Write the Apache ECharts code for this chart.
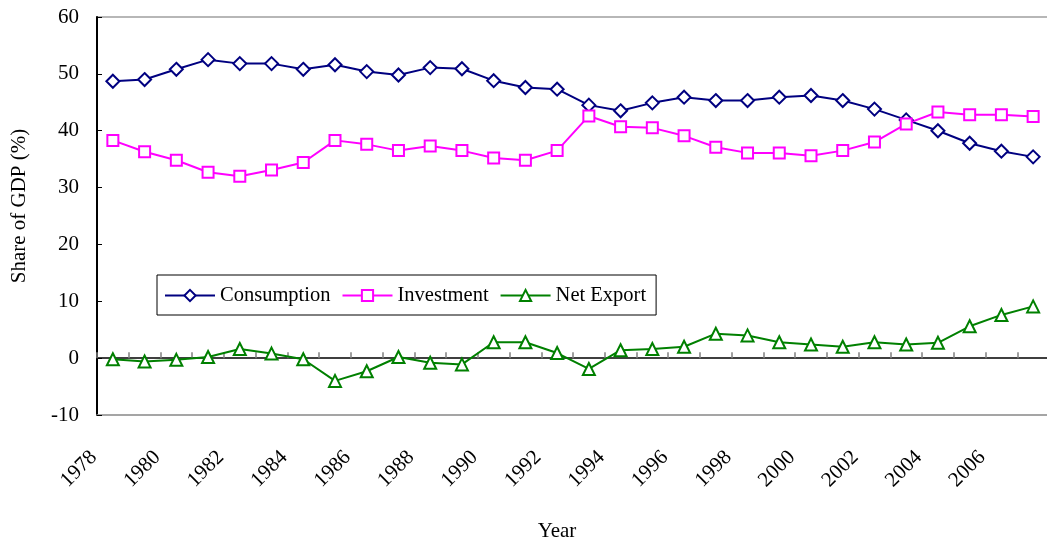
<!DOCTYPE html>
<html>
<head>
<meta charset="utf-8">
<script src="https://cdn.jsdelivr.net/npm/echarts@6/dist/echarts.min.js"></script>
<style>
  html, body { margin: 0; padding: 0; background: #fff; }
  #chart { width: 1047px; height: 539px; }
</style>
</head>
<body>
<div id="chart"></div>
<script>
const years = [
  "1978", "1979", "1980", "1981", "1982", "1983", "1984", "1985", "1986", "1987",
  "1988", "1989", "1990", "1991", "1992", "1993", "1994", "1995", "1996", "1997",
  "1998", "1999", "2000", "2001", "2002", "2003", "2004", "2005", "2006", "2007"
];
const consumption = [
  48.7, 49.0, 50.8, 52.5, 51.8, 51.8, 50.8, 51.6, 50.4, 49.8,
  51.1, 50.9, 48.8, 47.6, 47.3, 44.5, 43.5, 44.9, 45.9, 45.3,
  45.3, 45.9, 46.2, 45.3, 43.8, 41.9, 40.0, 37.8, 36.4, 35.4
];
const investment = [
  38.3, 36.3, 34.8, 32.7, 32.0, 33.1, 34.4, 38.3, 37.6, 36.5,
  37.3, 36.5, 35.2, 34.8, 36.5, 42.6, 40.7, 40.5, 39.1, 37.1,
  36.1, 36.1, 35.6, 36.5, 38.0, 41.2, 43.3, 42.8, 42.8, 42.5
];
const netExport = [
  -0.2, -0.6, -0.3, 0.2, 1.6, 0.8, -0.2, -4.0, -2.3, 0.2,
  -0.8, -1.1, 2.8, 2.8, 0.9, -1.9, 1.4, 1.6, 2.0, 4.3,
  4.0, 2.8, 2.4, 2.0, 2.8, 2.4, 2.7, 5.6, 7.6, 9.1
];

const FONT = "'Liberation Serif', 'DejaVu Serif', serif";
const FS = 21;

const chart = echarts.init(document.getElementById("chart"));

const lineSeries = (name, data, color, symbol, size) => ({
  name,
  type: "line",
  data,
  symbol,
  symbolSize: size,
  showAllSymbol: true,
  lineStyle: { color, width: 2 },
  itemStyle: { color, borderColor: color, borderWidth: 2 },
  emphasis: { disabled: true },
  animation: false
});

chart.setOption({
  animation: false,
  textStyle: { fontFamily: FONT, color: "#000" },
  grid: {
    left: 97, top: 17, width: 952, height: 398,
    containLabel: false, outerBoundsMode: "none",
    show: true, borderColor: "#a0a0a0", borderWidth: 1.5, backgroundColor: "#fff"
  },
  legend: {
    left: 157, top: 275,
    orient: "horizontal",
    itemWidth: 50, itemHeight: 14, itemGap: 11,
    padding: [10, 10, 9, 7],
    borderColor: "#000", borderWidth: 1,
    textStyle: { fontFamily: FONT, fontSize: 20.5, color: "#000" },
    data: ["Consumption", "Investment", "Net Export"]
  },
  xAxis: [
    {
      type: "category",
      data: years,
      position: "bottom",
      boundaryGap: true,
      axisLine: { onZero: false, lineStyle: { color: "#a0a0a0", width: 1.5 } },
      axisTick: { show: false },
      axisLabel: {
        interval: 1, rotate: 45, margin: 20,
        padding: [0, 27, 0, 0],
        fontFamily: FONT, fontSize: FS, color: "#000"
      },
      name: "Year",
      nameLocation: "middle",
      nameGap: 106,
      nameTextStyle: { fontFamily: FONT, fontSize: FS, color: "#000", padding: [0, 32, 0, 0] }
    },
    {
      type: "category",
      data: years,
      position: "top",
      boundaryGap: true,
      axisLine: { onZero: true, lineStyle: { color: "#000", width: 1.5 } },
      axisTick: { show: true, interval: 0, length: 6, lineStyle: { color: "#808080", width: 1.5 } },
      axisLabel: { show: false }
    }
  ],
  yAxis: {
    type: "value",
    min: -10, max: 60, interval: 10,
    splitLine: { show: false },
    axisLine: { show: true, onZero: false, lineStyle: { color: "#000", width: 2 } },
    axisTick: { show: true, inside: true, length: 5, lineStyle: { color: "#000", width: 1 } },
    axisLabel: { margin: 18, fontFamily: FONT, fontSize: FS, color: "#000" },
    name: "Share of GDP (%)",
    nameLocation: "middle",
    nameGap: 67,
    nameTextStyle: { fontFamily: FONT, fontSize: FS, color: "#000", padding: [0, 0, 0, 20] }
  },
  series: [
    lineSeries("Consumption", consumption, "#000080", "emptyDiamond", 13),
    lineSeries("Investment", investment, "#ff00ff", "emptyRect", 11),
    lineSeries("Net Export", netExport, "#008000", "emptyTriangle", 12)
  ]
});
</script>
</body>
</html>
